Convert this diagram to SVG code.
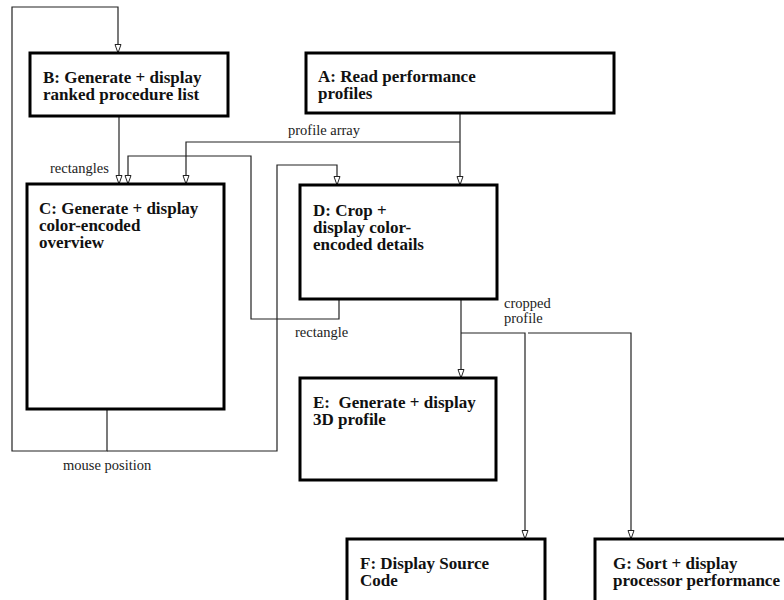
<svg xmlns="http://www.w3.org/2000/svg" width="784" height="600" viewBox="0 0 784 600">
<style>
.box{fill:#fff;stroke:#000;stroke-width:3}
.t{font-family:"Liberation Serif","Times New Roman",serif;font-weight:bold;font-size:17px;fill:#111}
.l{font-family:"Liberation Serif","Times New Roman",serif;font-size:14.5px;fill:#222}
.c{fill:none;stroke:#222;stroke-width:1.2}
</style>
<defs>
<marker id="ah" markerUnits="userSpaceOnUse" markerWidth="10" markerHeight="8" refX="9" refY="3.5" orient="auto">
<path d="M0.5,0.5 L9,3.5 L0.5,6.5 z" fill="#fff" stroke="#222" stroke-width="1"/>
</marker>
</defs>
<rect width="784" height="600" fill="#fff"/>
<g id="connectors">
<path class="c" d="M107,409 V451 H12 V7 H118 V53" marker-end="url(#ah)"/>
<path class="c" d="M107,451 H277 V165 H337 V185" marker-end="url(#ah)"/>
<path class="c" d="M119,116 V184" marker-end="url(#ah)"/>
<path class="c" d="M339,299 V319 H251 V156 H128 V184" marker-end="url(#ah)"/>
<path class="c" d="M460,113 V185" marker-end="url(#ah)"/>
<path class="c" d="M460,142 H186 V184" marker-end="url(#ah)"/>
<path class="c" d="M461,299 V378" marker-end="url(#ah)"/>
<path class="c" d="M461,333 H525 V539" marker-end="url(#ah)"/>
<path class="c" d="M528,333 H631 V539" marker-end="url(#ah)"/>
<text class="l" x="50" y="173">rectangles</text>
<text class="l" x="288" y="135">profile array</text>
<text class="l" x="295" y="337">rectangle</text>
<text class="l" x="504" y="308">cropped</text>
<text class="l" x="504" y="323">profile</text>
<text class="l" x="63" y="470">mouse position</text>
</g>
<g id="nodeA">
<rect class="box" x="306" y="53" width="308" height="60"/>
<text class="t" x="318" y="82">A: Read performance</text>
<text class="t" x="318" y="99">profiles</text>
</g>
<g id="nodeB">
<rect class="box" x="30" y="53" width="198" height="63"/>
<text class="t" x="43" y="83">B: Generate + display</text>
<text class="t" x="43" y="100">ranked procedure list</text>
</g>
<g id="nodeC">
<rect class="box" x="27" y="184" width="197" height="225"/>
<text class="t" x="39" y="214">C: Generate + display</text>
<text class="t" x="39" y="231">color-encoded</text>
<text class="t" x="39" y="248">overview</text>
</g>
<g id="nodeD">
<rect class="box" x="300" y="185" width="197" height="114"/>
<text class="t" x="313" y="216">D: Crop +</text>
<text class="t" x="313" y="233">display color-</text>
<text class="t" x="313" y="250">encoded details</text>
</g>
<g id="nodeE">
<rect class="box" x="300" y="378" width="196" height="102"/>
<text class="t" x="313" y="408" xml:space="preserve">E:  Generate + display</text>
<text class="t" x="313" y="425">3D profile</text>
</g>
<g id="nodeF">
<rect class="box" x="347" y="539" width="198" height="80"/>
<text class="t" x="360" y="569">F: Display Source</text>
<text class="t" x="360" y="586">Code</text>
</g>
<g id="nodeG">
<rect class="box" x="595" y="539" width="200" height="80"/>
<text class="t" x="613" y="569">G: Sort + display</text>
<text class="t" x="613" y="586">processor performance</text>
</g>
</svg>
